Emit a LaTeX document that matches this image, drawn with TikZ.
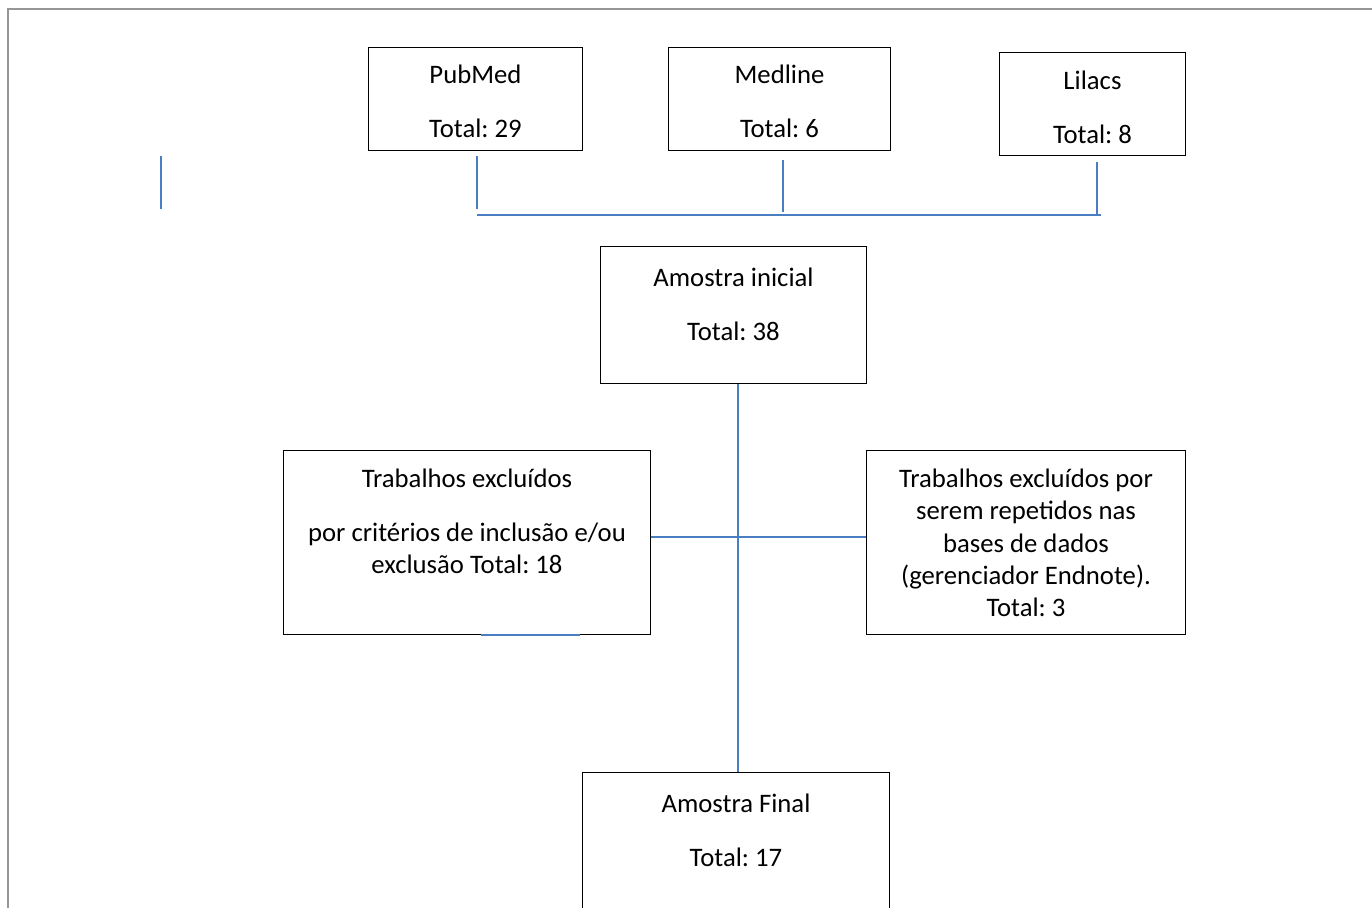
\documentclass[tikz,border=0pt]{standalone}
\usepackage{fontspec}
\setmainfont{Carlito}
\usepackage{tikz}
\usetikzlibrary{calc}

\newcommand{\px}{0.02cm}
\definecolor{linkblue}{HTML}{4A7EC2}
\definecolor{framegray}{HTML}{969696}
\frenchspacing

\begin{document}
\begin{tikzpicture}[x=0.02cm,y=-0.02cm,
    box/.style={draw=black,line width=0.55pt,rectangle,anchor=north west,inner sep=0pt},
    txt/.style={anchor=base,inner sep=0pt,font=\fontsize{15.2}{18}\selectfont},
    link/.style={draw=linkblue,line width=1.1pt}]
  \useasboundingbox (0,0) rectangle (1372,907);
  \draw[framegray,line width=1.2pt] (8,930) -- (8,9) -- (1390,9);

  \node[box,minimum width=214*\px,minimum height=103*\px] (pubmed) at (368,47) {};
  \node[box,minimum width=222*\px,minimum height=103*\px] (medline) at (668,47) {};
  \node[box,minimum width=186*\px,minimum height=103*\px] (lilacs) at (999,52) {};

  \node[box,minimum width=266*\px,minimum height=137*\px] (inicial) at (600,246) {};
  \node[box,minimum width=367*\px,minimum height=184*\px] (criterios) at (283,450) {};
  \node[box,minimum width=319*\px,minimum height=184*\px] (repetidos) at (866,450) {};
  \node[box,minimum width=307*\px,minimum height=200*\px] (final) at (582,772) {};

  % texts
  \node[txt] (pubmed1) at ([yshift=-36*\px]pubmed.north) {PubMed};
  \node[txt] (pubmed2) at ([yshift=-90*\px]pubmed.north) {Total: 29};
  \node[txt] (medline1) at ([yshift=-36*\px]medline.north) {Medline};
  \node[txt] (medline2) at ([yshift=-90*\px]medline.north) {Total: 6};
  \node[txt] (lilacs1) at ([yshift=-37*\px]lilacs.north) {Lilacs};
  \node[txt] (lilacs2) at ([yshift=-91*\px]lilacs.north) {Total: 8};

  \node[txt] (inicial1) at ([yshift=-40*\px]inicial.north) {Amostra inicial};
  \node[txt] (inicial2) at ([yshift=-94*\px]inicial.north) {Total: 38};

  \node[txt] (criterios1) at ([yshift=-37*\px]criterios.north) {Trabalhos excluídos};
  \node[txt] (criterios2) at ([yshift=-91*\px]criterios.north) {por critérios de inclusão e/ou};
  \node[txt] (criterios3) at ([yshift=-123*\px]criterios.north) {exclusão Total: 18};

  \node[txt] (repetidos1) at ([yshift=-37*\px]repetidos.north) {Trabalhos excluídos por};
  \node[txt] (repetidos2) at ([yshift=-69*\px]repetidos.north) {serem repetidos nas};
  \node[txt] (repetidos3) at ([yshift=-102*\px]repetidos.north) {bases de dados};
  \node[txt] (repetidos4) at ([yshift=-134*\px]repetidos.north) {(gerenciador Endnote).};
  \node[txt] (repetidos5) at ([yshift=-166*\px]repetidos.north) {Total: 3};

  \node[txt] (final1) at ([yshift=-40*\px]final.north) {Amostra Final};
  \node[txt] (final2) at ([yshift=-94*\px]final.north) {Total: 17};

  % connectors
  \coordinate (busW) at (477,215);
  \coordinate (busE) at (1101,215);
  \coordinate (spine) at (738,537);
  \coordinate (stray) at (161,156);
  \coordinate (dropA) at (477,156);
  \coordinate (dropB) at (783,160);
  \coordinate (dropC) at (1097,162);

  \draw[link] (dropA) -- ++(0,53);
  \draw[link] (dropB) -- ++(0,52);
  \draw[link] (dropC) -- ++(0,54);
  \draw[link] (busW) -- (busE);
  \draw[link] (stray) -- ++(0,53);

  \draw[link] (inicial.south -| spine) -- (final.north -| spine);
  \draw[link] (criterios.east |- spine) -- (repetidos.west |- spine);
  \draw[link] ($(criterios.south west)+(198,0)$) -- ++(99,0);
\end{tikzpicture}
\end{document}
